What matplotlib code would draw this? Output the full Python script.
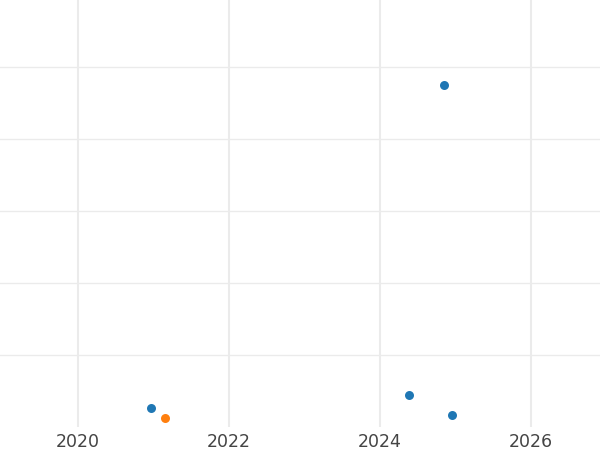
import matplotlib
matplotlib.use("Agg")
import matplotlib.pyplot as plt

# data
blue_years = [2024.85, 2020.97, 2024.38, 2024.95]
blue_vals = [4.75, 0.26, 0.44, 0.17]
orange_years = [2021.15]
orange_vals = [0.125]
xticks = [2020, 2022, 2024, 2026]
yticks = [1, 2, 3, 4, 5]

fig = plt.figure(figsize=(6, 4.5), dpi=100)
ax = fig.add_axes([0, 1 - 427 / 450, 1, 427 / 450])
ax.set_xlim(2020 - 78 / 75.5, 2020 + 522 / 75.5)
ax.set_ylim(0, 427 / 72)
ax.set_xticks(xticks)
ax.set_xticklabels([str(t) for t in xticks])
ax.set_yticks(yticks)
ax.set_yticklabels([])
ax.grid(True, axis='x', color='#ebebeb', linewidth=1.5)
ax.grid(True, axis='y', color='#ebebeb', linewidth=1.0)
ax.set_axisbelow(True)
for s in ax.spines.values():
    s.set_visible(False)
ax.tick_params(axis='both', length=0)
ax.tick_params(axis='x', labelsize=12.5, labelcolor='#444444', pad=4.5)

ax.scatter(blue_years, blue_vals, s=42, color='#1f77b4', zorder=3, linewidths=0)
ax.scatter(orange_years, orange_vals, s=42, color='#ff7f0e', zorder=3, linewidths=0)

fig.savefig("out.png", dpi=100)
